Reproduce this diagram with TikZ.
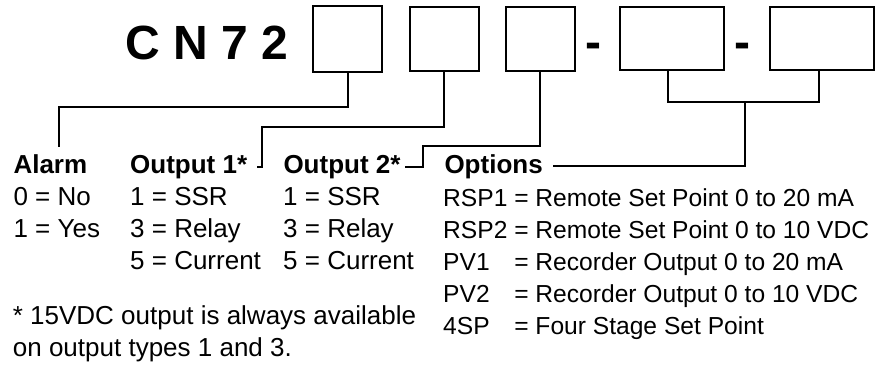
\documentclass[tikz,border=0pt]{standalone}
\usepackage{fontspec}
\setmainfont{Liberation Sans}
\usetikzlibrary{positioning,calc}

\tikzset{
    codebox/.style={draw, line width=2pt, inner sep=0pt, minimum width=69pt, minimum height=64pt},
    widebox/.style={codebox, minimum width=104pt, minimum height=63pt},
    model/.style={anchor=base west, inner sep=0pt, font=\fontsize{48}{48}\selectfont\bfseries},
    head/.style={anchor=base west, inner sep=0pt, font=\fontsize{26}{32}\selectfont\bfseries},
    entry/.style={anchor=base west, inner sep=0pt, font=\fontsize{26}{32}\selectfont},
    optentry/.style={entry, font=\fontsize{24.6}{32}\selectfont},
    link/.style={line width=2pt}
}

\begin{document}
\begin{tikzpicture}[x=1pt, y=-1pt]
    \useasboundingbox (0,0) rectangle (875,372);

    % Model number and code boxes
    \node[model] (cn) at (125,59.3) {C N 7 2};
    \node[codebox, minimum height=66pt] (b1) at (347.7,38.5) {};
    \node[codebox] (b2) at (444.2,39) {};
    \node[codebox] (b3) at (540,39) {};
    \node[model, anchor=base] (dash1) at (593.3,58) {-};
    \node[widebox] (b4) at (672.3,38.5) {};
    \node[model, anchor=base] (dash2) at (742,58) {-};
    \node[widebox] (b5) at (821.5,38.5) {};

    % Headings
    \node[head] (alarm) at (13.3,173.3) {Alarm};
    \node[head] (out1) at (130,173.3) {Output 1*};
    \node[head] (out2) at (283.3,173.3) {Output 2*};
    \node[head] (opts) at (444.3,173.3) {Options};

    % Choices
    \node[entry] (alarmlist) at (13.3,205.5) {\begin{tabular}[t]{@{}l@{}}0 = No\\1 = Yes\end{tabular}};
    \node[entry] (out1list) at (130,205.5) {\begin{tabular}[t]{@{}l@{}}1 = SSR\\3 = Relay\\5 = Current\end{tabular}};
    \node[entry] (out2list) at (283,205.5) {\begin{tabular}[t]{@{}l@{}}1 = SSR\\3 = Relay\\5 = Current\end{tabular}};
    \node[optentry] (optslist) at (443,206.5) {\begin{tabular}[t]{@{}l@{\ }l@{}}
        RSP1 & = Remote Set Point 0 to 20 mA\\
        RSP2 & = Remote Set Point 0 to 10 VDC\\
        PV1 & = Recorder Output 0 to 20 mA\\
        PV2 & = Recorder Output 0 to 10 VDC\\
        4SP & = Four Stage Set Point\end{tabular}};
    \node[entry] (note) at (12.7,324) {\begin{tabular}[t]{@{}l@{}}* 15VDC output is always available\\on output types 1 and 3.\end{tabular}};

    % Leader lines
    \coordinate (alarmtip) at (58.7,146.7);
    \coordinate (tip1) at (262.3,166.5);
    \coordinate (end1) at (256.7,166.5);
    \coordinate (tip2) at (423.3,166.5);
    \coordinate (end2) at (405,166.5);
    \coordinate (bridge) at (744.5,101);
    \coordinate (optsend) at (552.7,166);

    \draw[link] (b1.south) -- ++(0,34) -| (alarmtip);
    \draw[link] (b2.south) -- ++(0,55) -| (tip1) -- (end1);
    \draw[link] (b3.south) -- ++(0,74) -| (tip2) -- (end2);
    \draw[link] ($(b4.south)+(-4.6,0)$) -- ++(0,30.7) -| ($(b5.south)+(-2.5,0)$);
    \draw[link] (bridge) |- (optsend);

\end{tikzpicture}
\end{document}
